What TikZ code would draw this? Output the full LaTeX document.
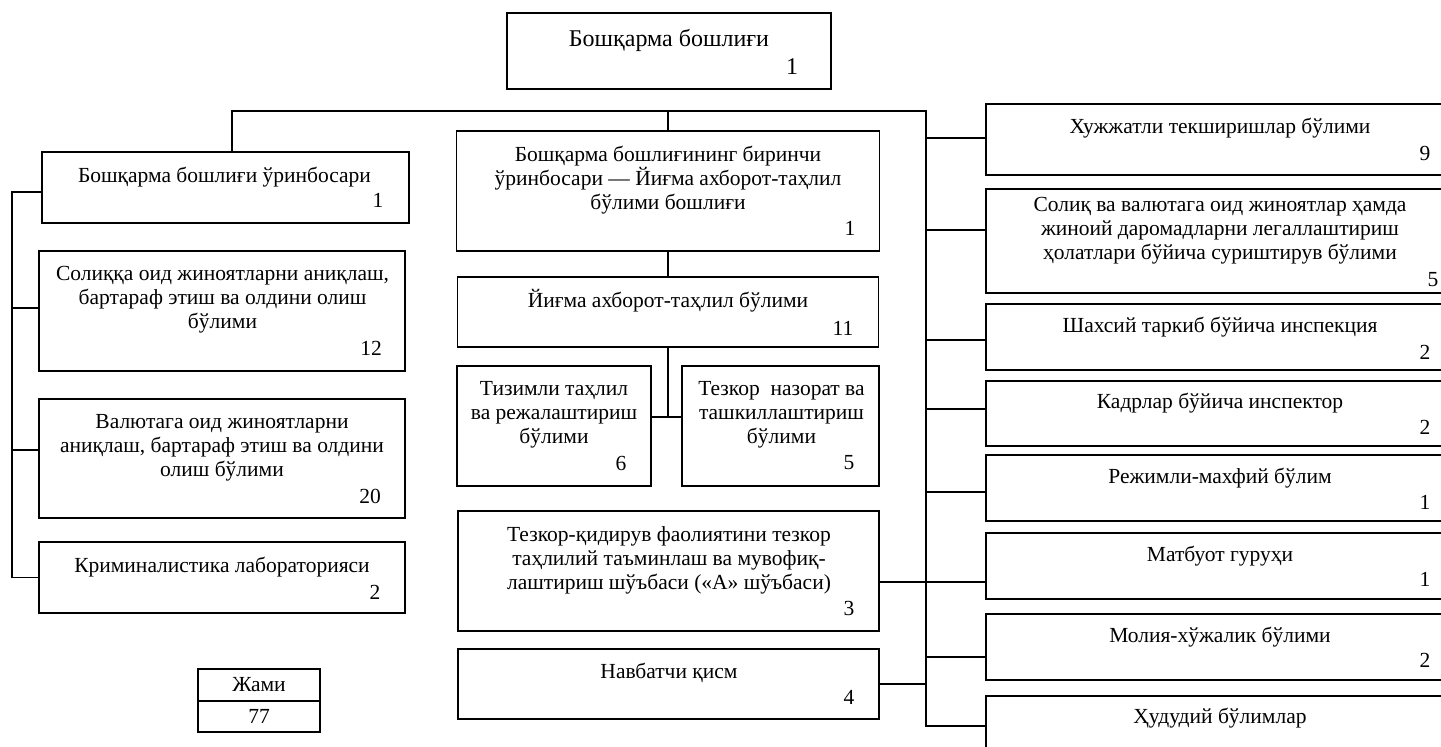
\documentclass[tikz,border=0pt]{standalone}
\usepackage{fontspec}
\setmainfont{Liberation Serif}
\tikzset{
  obox/.style={draw, line width=1.7pt, rectangle, inner sep=0pt},
  lbl/.style={font=\fontsize{21.5}{24}\selectfont, align=center, inner sep=0pt},
  num/.style={font=\fontsize{21.5}{24}\selectfont, inner sep=0pt},
  biglbl/.style={font=\fontsize{24}{27}\selectfont, align=center, inner sep=0pt},
  conn/.style={line width=1.7pt},
}
\begin{document}
\begin{tikzpicture}[x=1pt,y=-1pt]
\useasboundingbox (0,0) rectangle (1441,747);
\fill[white] (0,0) rectangle (1441,747);
\clip (0,0) rectangle (1441,747);

% top
\node[obox, minimum width=324pt, minimum height=76pt] (top) at (669,51) {};
\node[biglbl] (topT) at (669,40) {Бошқарма бошлиғи};
\node[biglbl] (topN) at (792,67) {1};

% left column
\node[obox, minimum width=367pt, minimum height=71pt] (dep1) at (225.5,187.5) {};
\node[lbl] (dep1T) at (224.5,177) {Бошқарма бошлиғи ўринбосари};
\node[num] (dep1N) at (378,200) {1};

\node[obox, minimum width=366pt, minimum height=120pt] (tax) at (222,311) {};
\node[lbl] (taxT) at (222.5,300) {Солиққа оид жиноятларни аниқлаш,\\бартараф этиш ва олдини олиш\\бўлими};
\node[num] (taxN) at (371,348) {12};

\node[obox, minimum width=366pt, minimum height=119pt] (val) at (222,458.5) {};
\node[lbl] (valT) at (222,448) {Валютага оид жиноятларни\\аниқлаш, бартараф этиш ва олдини\\олиш бўлими};
\node[num] (valN) at (370,496) {20};

\node[obox, minimum width=366pt, minimum height=71pt] (krim) at (222,577.5) {};
\node[lbl] (krimT) at (222,567) {Криминалистика лабораторияси};
\node[num] (krimN) at (375,592) {2};

\node[obox, minimum width=122pt, minimum height=32pt, font=\fontsize{21.5}{24}\selectfont] (jamiA) at (259,685) {Жами};
\node[obox, minimum width=122pt, minimum height=31pt, font=\fontsize{21.5}{24}\selectfont] (jamiB) at (259,716.5) {77};

% centre column
\node[obox, minimum width=423pt, minimum height=120pt] (first) at (668,191) {};
\node[lbl] (firstT) at (668,180) {Бошқарма бошлиғининг биринчи\\ўринбосари — Йиғма ахборот-таҳлил\\бўлими бошлиғи};
\node[num] (firstN) at (850,228) {1};

\node[obox, minimum width=421pt, minimum height=70pt] (yigma) at (668,312) {};
\node[lbl] (yigmaT) at (668,301) {Йиғма ахборот-таҳлил бўлими};
\node[num] (yigmaN) at (843,328) {11};

\node[obox, minimum width=194pt, minimum height=120pt] (tiz) at (554,426) {};
\node[lbl] (tizT) at (554,415) {Тизимли таҳлил\\ва режалаштириш\\бўлими};
\node[num] (tizN) at (621,463) {6};

\node[obox, minimum width=197pt, minimum height=120pt] (tez) at (780.5,426) {};
\node[lbl] (tezT) at (781.5,415) {Тезкор\ \ назорат ва\\ташкиллаштириш\\бўлими};
\node[num] (tezN) at (849,463) {5};

\node[obox, minimum width=421pt, minimum height=120pt] (tq) at (668.5,571) {};
\node[lbl] (tqT) at (669,560) {Тезкор-қидирув фаолиятини тезкор\\таҳлилий таъминлаш ва мувофиқ-\\лаштириш шўъбаси («А» шўъбаси)};
\node[num] (tqN) at (849,608) {3};

\node[obox, minimum width=421pt, minimum height=70pt] (nav) at (668.5,684) {};
\node[lbl] (navT) at (669,673) {Навбатчи қисм};
\node[num] (navN) at (849,697) {4};

% right column
\node[obox, minimum width=469pt, minimum height=71pt] (r1) at (1220.5,139.5) {};
\node[lbl] (r1T) at (1220,128) {Хужжатли текширишлар бўлими};
\node[num] (r1N) at (1425,153) {9};

\node[obox, minimum width=469pt, minimum height=104pt] (r2) at (1220.5,241) {};
\node[lbl] (r2T) at (1220,231) {Солиқ ва валютага оид жиноятлар ҳамда\\жиноий даромадларни легаллаштириш\\ҳолатлари бўйича суриштирув бўлими};
\node[num] (r2N) at (1433,280) {5};

\node[obox, minimum width=469pt, minimum height=66pt] (r3) at (1220.5,337) {};
\node[lbl] (r3T) at (1220,327) {Шахсий таркиб бўйича инспекция};
\node[num] (r3N) at (1425,352) {2};

\node[obox, minimum width=469pt, minimum height=65pt] (r4) at (1220.5,413.5) {};
\node[lbl] (r4T) at (1220,403) {Кадрлар бўйича инспектор};
\node[num] (r4N) at (1425,427) {2};

\node[obox, minimum width=469pt, minimum height=66pt] (r5) at (1220.5,488) {};
\node[lbl] (r5T) at (1220,478) {Режимли-махфий бўлим};
\node[num] (r5N) at (1425,502) {1};

\node[obox, minimum width=469pt, minimum height=66pt] (r6) at (1220.5,566) {};
\node[lbl] (r6T) at (1220,556) {Матбуот гуруҳи};
\node[num] (r6N) at (1425,579) {1};

\node[obox, minimum width=469pt, minimum height=66pt] (r7) at (1220.5,647) {};
\node[lbl] (r7T) at (1220,637) {Молия-хўжалик бўлими};
\node[num] (r7N) at (1425,660) {2};

\node[obox, minimum width=469pt, minimum height=60pt] (r8) at (1220.5,726) {};
\node[lbl] (r8T) at (1220,718) {Ҳудудий бўлимлар};

% connectors
\coordinate (bL) at (232,111);
\coordinate (bR) at (926,111);
\coordinate (trunkEnd) at (926,726);
\coordinate (lTop) at (12,192);
\coordinate (split) at (668,417);

\draw[conn] (bL |- dep1.north) -- (bL) -- (bR) -- (trunkEnd) -- (r8.west);
\draw[conn] (first.north) -- (first.north |- bR);
\draw[conn] (first.south) -- (yigma.north);
\draw[conn] (yigma.south) -- (split);
\draw[conn] ([yshift=9pt]tiz.east) -- ([yshift=9pt]tez.west);

\draw[conn] ([yshift=1.5pt]r1.west) -- ([yshift=1.5pt]r1.west -| bR);
\draw[conn] ([yshift=11pt]r2.west) -- ([yshift=11pt]r2.west -| bR);
\draw[conn] ([yshift=-3pt]r3.west) -- ([yshift=-3pt]r3.west -| bR);
\draw[conn] ([yshift=4.5pt]r4.west) -- ([yshift=4.5pt]r4.west -| bR);
\draw[conn] ([yshift=-4pt]r5.west) -- ([yshift=-4pt]r5.west -| bR);
\draw[conn] ([yshift=-16pt]r6.west) -- ([yshift=-16pt]r6.west -| bR);
\draw[conn] ([yshift=-10pt]r7.west) -- ([yshift=-10pt]r7.west -| bR);
\draw[conn] ([yshift=-11pt]tq.east) -- ([yshift=-11pt]tq.east -| bR);
\draw[conn] (nav.east) -- (nav.east -| bR);

\draw[conn] ([yshift=-4.5pt]dep1.west) -- (lTop) |- (krim.west);
\draw[conn] ([yshift=3pt]tax.west) -- ([yshift=3pt]tax.west -| lTop);
\draw[conn] ([yshift=8.5pt]val.west) -- ([yshift=8.5pt]val.west -| lTop);
\end{tikzpicture}
\end{document}
